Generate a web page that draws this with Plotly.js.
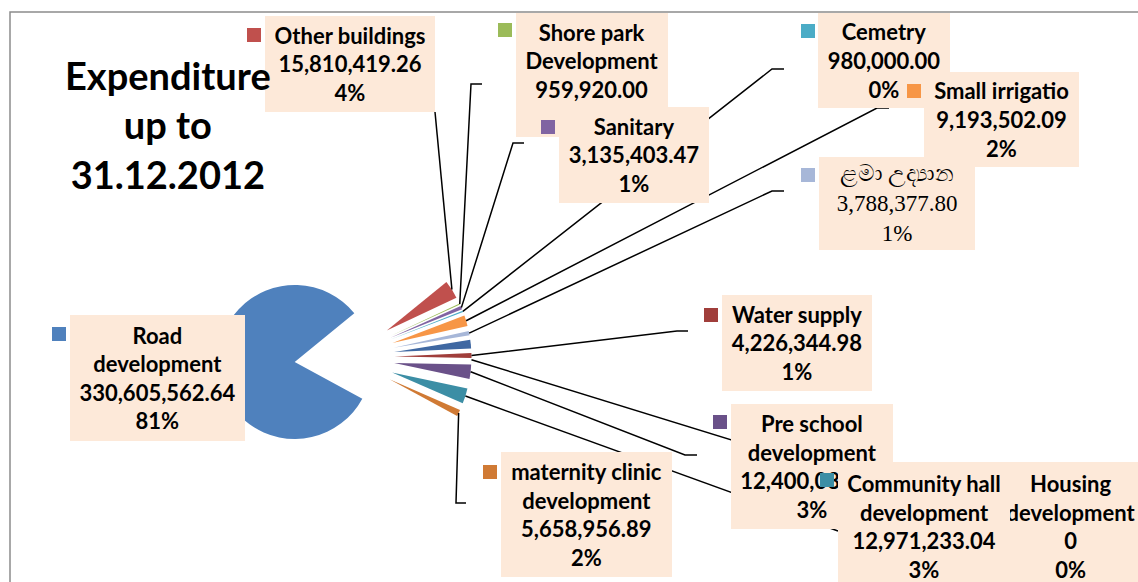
<!DOCTYPE html>
<html><head><meta charset="utf-8">
<script src="https://cdn.plot.ly/plotly-3.0.1.min.js"></script>
<style>html,body{margin:0;padding:0;background:#fff;overflow:hidden}#chart{width:1138px;height:582px}</style>
</head><body><div id="chart"></div>
<script>
// ---------- DATA ----------
const categories = ["Road development","Other buildings","Shore park Development","Sanitary","Cemetry","Small irrigatio","ළමා උද්‍යාන","(no label)","Water supply","Housing development","Pre school development","Community hall development","maternity clinic development"];
const values = [330605562.64, 15810419.26, 959920.00, 3135403.47, 980000.00, 9193502.09, 3788377.80, 7500000.00, 4226344.98, 0, 12400080.00, 12971233.04, 5658956.89];
const valueLabels = ["330,605,562.64","15,810,419.26","959,920.00","3,135,403.47","980,000.00","9,193,502.09","3,788,377.80","","4,226,344.98","0","12,400,080.00","12,971,233.04","5,658,956.89"];
const percentLabels = ["81%","4%","0%","1%","0%","2%","1%","2%","1%","0%","3%","3%","2%"];
const colors = ["#4F81BD","#C0504D","#9BBB59","#8064A2","#4BACC6","#F79646","#A7B7D8","#3F68A2","#A03E3B","#2C4D75","#6A5189","#3C8EA5","#D07A34"];
const titleText = "Expenditure<br>up to<br>31.12.2012";

// ---------- LAYOUT (pixels) ----------
const W = 1138, H = 582;
const pieCenter = [344.5, 357.3], pieHalf = 127, pullFrac = 0.65, startRotation = 118.5;
// per label: box [x0,y0,x1,y1], marker [x,y], leader end points (null = none)
const labelCfg = {
  0: {box:[70,315,245,441], mk:[52,327], lead:null},
  1: {box:[265,16,435,112], mk:[247,28], lead:[[435,112]]},
  2: {box:[516,13,668,137], mk:[498,23], lead:[[471,84],[482,84]], noPct:true},
  3: {box:[559,107,709,203], mk:[541,120], lead:[[513,143],[524,143]]},
  4: {box:[818,13,950,108], mk:[801,24], lead:[[772,69],[784,69]]},
  5: {box:[924,72,1079,167], mk:[907,84], lead:[[877,108],[889,108]]},
  6: {box:[819,157,975,250], mk:[801,168], lead:[[772,191],[784,191]], serif:true},
  8: {box:[722,295,872,391], mk:[704,308], lead:[[677,331],[688,331]]},
  9: {box:[1003,462,1139,591], mk:[988,473], lead:[[1010,526]]},
  10:{box:[731,404,893,529], mk:[713,415], lead:[[685,455],[697,455]]},
  11:{box:[838,462,1010,591], mk:[820,473], lead:[[838,531]]},
  12:{box:[501,452,672,577], mk:[483,465], lead:[[456,503],[466,503]]}
};
const drawOrder = [0,1,2,3,4,5,6,8,9,10,11,12];

const px = x => x / W;
const py = y => 1 - y / H;

// pie geometry (same formula as plotly: r = min(w,h)/(2+2*maxPull))
const domX = [px(pieCenter[0]-pieHalf), px(pieCenter[0]+pieHalf)];
const domY = [py(pieCenter[1]+pieHalf), py(pieCenter[1]-pieHalf)];
const r = (2*pieHalf) / (2 + 2*pullFrac);
const total = values.reduce((a,b)=>a+b,0);
const anchors = [];
let cum = 0;
values.forEach(v => {
  const a0 = startRotation + cum/total*360;
  const a1 = a0 + v/total*360;
  const mid = (a0+a1)/2 * Math.PI/180;
  const R = r*(1+pullFrac);
  anchors.push([pieCenter[0] + R*Math.sin(mid), pieCenter[1] - R*Math.cos(mid)]);
  cum += v;
});

function wrapName(n){ return n.replace(/ (development)$/i, '<br>$1'); }

const shapes = [{type:'rect', xref:'paper', yref:'paper', x0:px(10), y0:py(12), x1:1.05, y1:-0.05,
  line:{color:'#8C8C8C', width:1.5}, fillcolor:'rgba(0,0,0,0)'}];
drawOrder.forEach(i => {
  const c = labelCfg[i];
  if(!c.lead) return;
  const pts = [anchors[i]].concat(c.lead);
  const path = pts.map((p,k)=> (k?'L':'M') + px(p[0]).toFixed(5) + ',' + py(p[1]).toFixed(5)).join(' ');
  shapes.push({type:'path', xref:'paper', yref:'paper', path, line:{color:'#000', width:1.5}});
});

const annotations = [];
drawOrder.forEach(i => {
  const c = labelCfg[i];
  annotations.push({xref:'paper', yref:'paper', x:px(c.mk[0]), y:py(c.mk[1]), xanchor:'left', yanchor:'top',
    text:' ', width:14, height:14, bgcolor:colors[i], borderpad:0, borderwidth:0, showarrow:false, font:{size:8}});
  let txt = wrapName(categories[i]) + '<br>' + valueLabels[i];
  txt += '<br>' + (c.noPct ? '&nbsp;' : percentLabels[i]);
  annotations.push({xref:'paper', yref:'paper', x:px(c.box[0]), y:py(c.box[1]), xanchor:'left', yanchor:'top',
    width:c.box[2]-c.box[0], height:c.box[3]-c.box[1], bgcolor:'#FDE9D9', borderpad:0, borderwidth:0,
    text:txt, showarrow:false, align:'center', valign:'middle',
    font: c.serif ? {family:'Liberation Serif, DejaVu Serif, serif', size:23, color:'#000'}
                  : {family:'Lato', size:22, color:'#000', weight:700}});
});
annotations.push({xref:'paper', yref:'paper', x:px(168), y:py(124), xanchor:'center', yanchor:'middle',
  text:titleText, showarrow:false, align:'center', font:{family:'Lato', size:38, color:'#000', weight:700}});

const trace = {type:'pie', values, labels:categories, sort:false, direction:'clockwise', rotation:startRotation,
  pull: values.map(()=>pullFrac), marker:{colors, line:{width:0}}, textinfo:'none', hoverinfo:'skip',
  showlegend:false, domain:{x:domX, y:domY}};

Plotly.newPlot('chart', [trace], {width:W, height:H, margin:{l:0,r:0,t:0,b:0},
  paper_bgcolor:'#fff', showlegend:false, shapes, annotations}, {displayModeBar:false, staticPlot:true});
</script></body></html>
